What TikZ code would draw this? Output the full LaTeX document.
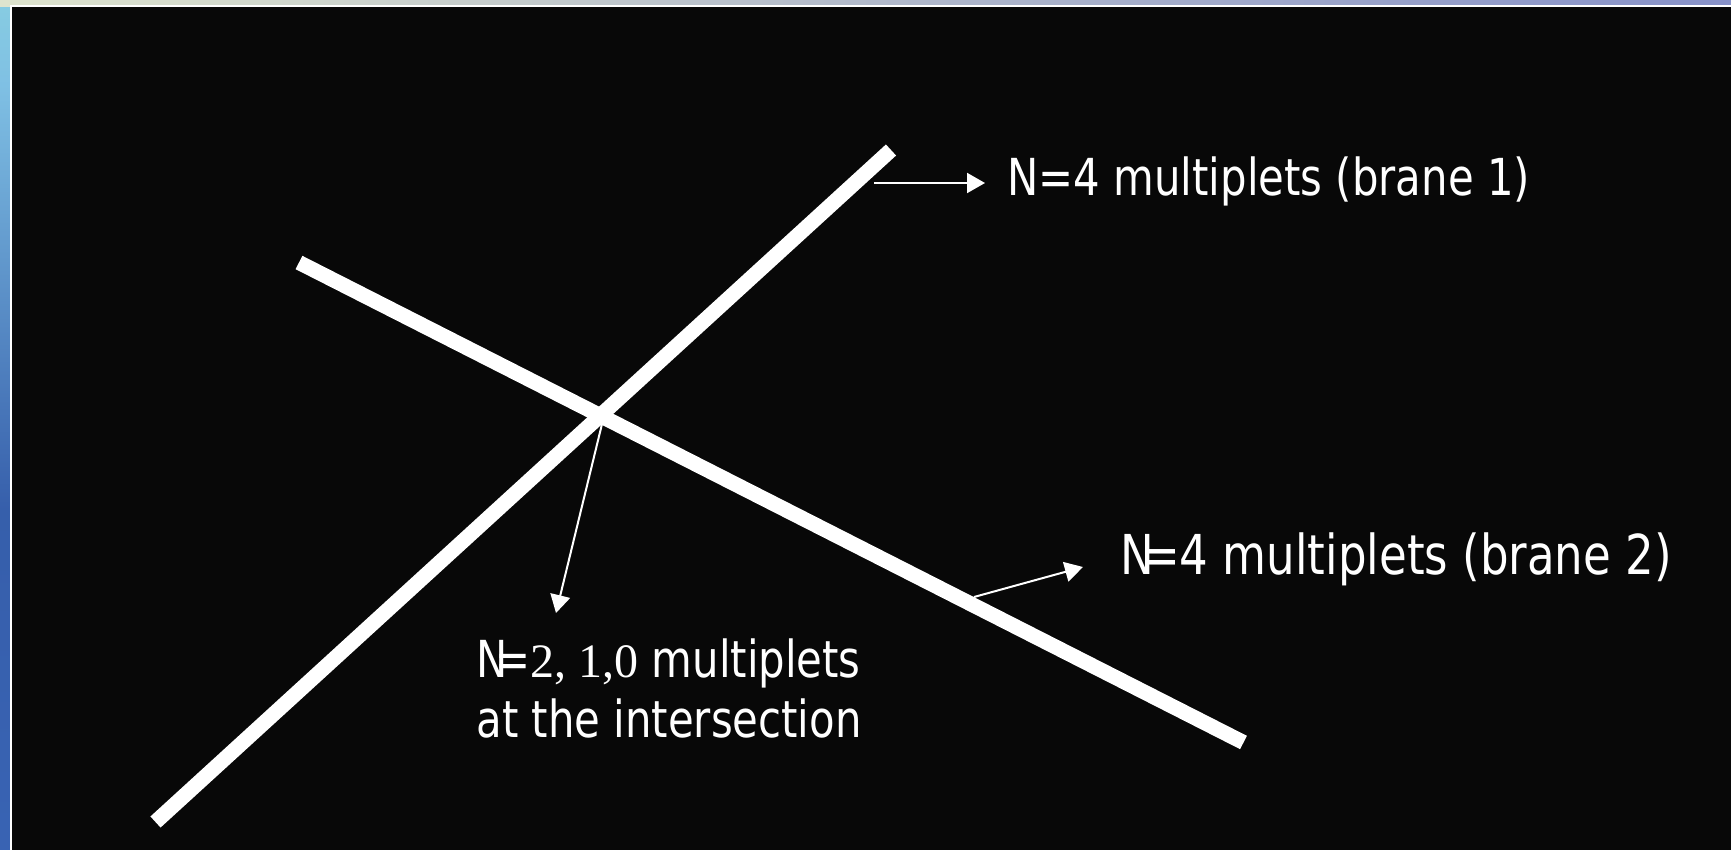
\documentclass[tikz,border=0pt]{standalone}
\usepackage{fontspec}
\setmainfont[FakeStretch=0.82]{DejaVu Sans}
\newfontfamily\serifnum{Liberation Serif}
\usetikzlibrary{arrows.meta}
\definecolor{slide}{RGB}{8,8,8}
\definecolor{palegreen}{RGB}{222,228,206}
\definecolor{deepblue}{RGB}{60,105,190}
\definecolor{periwinkle}{RGB}{135,145,200}
\pgfdeclareverticalshading{leftstrip}{100bp}{
  color(0bp)=(deepblue); color(45bp)=(deepblue!90!black); color(70bp)=(deepblue!70!cyan!60!white);
  color(88bp)=(palegreen!70!cyan); color(100bp)=(palegreen)}
\begin{document}
\begin{tikzpicture}[x=0.5pt,y=-0.5pt,
  brane/.style={white,line width=7.5pt},
  pointer/.style={white,line width=1pt,-{Triangle[length=9pt,width=10pt]}},
  lbl/.style={text=white,anchor=base west,inner sep=0pt,font=\fontsize{25.5pt}{30pt}\selectfont}]
\useasboundingbox (0,0) rectangle (1731,850);
% frame background
\shade[shading=leftstrip] (0,0) rectangle (12,850);
\shade[left color=palegreen,right color=periwinkle] (0,0) rectangle (1731,7);
\fill[white] (10,5) rectangle (1731,850);
\fill[slide] (12,7) rectangle (1731,850);
% branes
\coordinate (b1s) at (155.5,822);
\coordinate (b1e) at (891,150);
\coordinate (b2s) at (299,262.5);
\coordinate (b2e) at (1243.5,742.5);
\draw[brane] (b1s) -- (b1e);
\draw[brane] (b2s) -- (b2e);
% labels
\node[lbl] (l1) at (1007,196) {N=4 multiplets (brane 1)};
\node[lbl,font=\fontsize{27.5pt}{32pt}\selectfont] (l2) at (1120,574) {N\kern-0.22em=4 multiplets (brane 2)};
\node[lbl] (l3) at (476,677) {N\kern-0.24em={\serifnum\fontsize{24pt}{30pt}\selectfont 2, 1,0} multiplets};
\node[lbl] (l4) at (476,737) {at the intersection};
% arrows
\coordinate (a1s) at (874,183);
\coordinate (a1e) at (985,183);
\coordinate (a2s) at (974,597);
\coordinate (a2e) at (1083,567);
\coordinate (a3s) at (602,424);
\coordinate (a3e) at (556,613);
\draw[pointer] (a1s) -- (a1e);
\draw[pointer] (a2s) -- (a2e);
\draw[pointer] (a3s) -- (a3e);
\end{tikzpicture}
\end{document}
